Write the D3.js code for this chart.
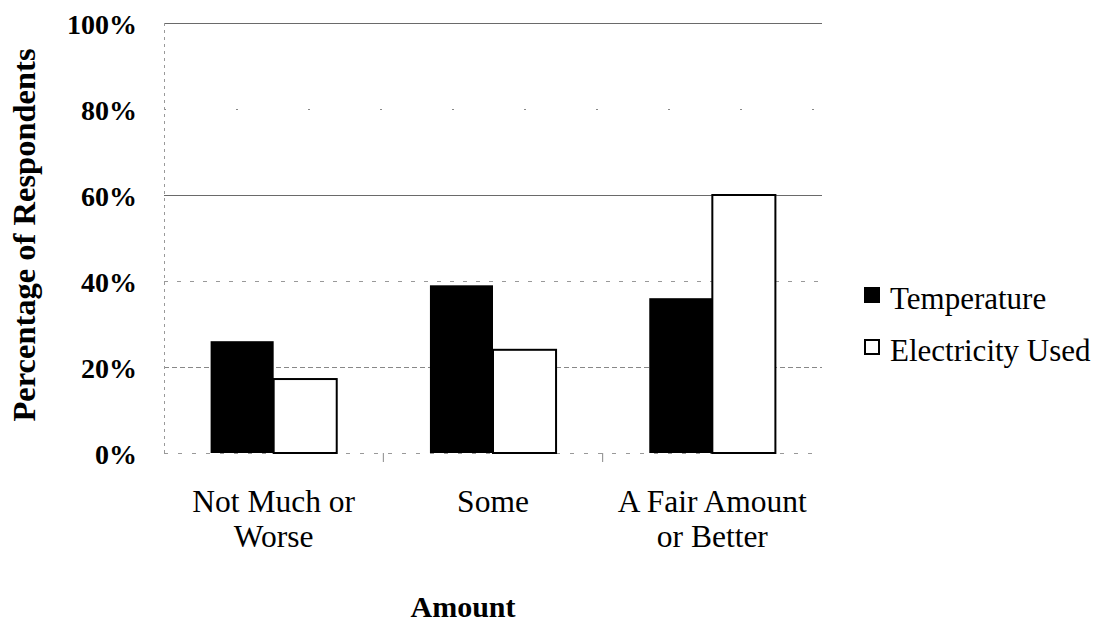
<!DOCTYPE html>
<html>
<head>
<meta charset="utf-8">
<script src="https://cdn.jsdelivr.net/npm/d3@7"></script>
<style>
  body { margin: 0; background: #fff; }
  text { font-family: 'Liberation Serif', 'DejaVu Serif', serif; }
</style>
</head>
<body>
<div id="chart"></div>
<script>
// data
const categories = [["Not Much or", "Worse"], ["Some"], ["A Fair Amount", "or Better"]];
const seriesNames = ["Temperature", "Electricity Used"];
const temperature = [26, 39, 36];
const electricity = [17.2, 24, 60];
const yTicks = [0, 20, 40, 60, 80, 100];

const serif = "'Liberation Serif', 'DejaVu Serif', serif";
const width = 1097, height = 626;
const margin = {top: 23, left: 164, right: 275, bottom: 173};

const svg = d3.select("#chart").append("svg")
  .attr("width", width)
  .attr("height", height)
  .attr("font-family", serif);

const x0 = d3.scaleBand()
  .domain(d3.range(categories.length))
  .range([margin.left, width - margin.right])
  .paddingInner(0.425)
  .paddingOuter(0.2125);

const x1 = d3.scaleBand()
  .domain(seriesNames)
  .range([0, x0.bandwidth()]);

const y = d3.scaleLinear()
  .domain([0, 100])
  .range([height - margin.bottom, margin.top]);

// gridlines: 100% and 60% solid, the rest faint dotted (scanned look)
const gridStyle = {
  100: {stroke: "#6a6a6a", dash: null},
  80: {stroke: "#888", dash: "2,70"},
  60: {stroke: "#6a6a6a", dash: null},
  40: {stroke: "#999", dash: "4,9"},
  20: {stroke: "#888", dash: "5,3"},
  0: {stroke: "#999", dash: "4,10"}
};
svg.append("g")
  .selectAll("line")
  .data(yTicks)
  .join("line")
  .attr("x1", margin.left).attr("x2", width - margin.right)
  .attr("y1", d => y(d) + 0.5).attr("y2", d => y(d) + 0.5)
  .attr("stroke", d => gridStyle[d].stroke)
  .attr("stroke-width", 1)
  .attr("stroke-dasharray", d => gridStyle[d].dash);

// y axis line (faint dotted)
svg.append("line")
  .attr("x1", margin.left + 0.5).attr("x2", margin.left + 0.5)
  .attr("y1", y(100)).attr("y2", y(0))
  .attr("stroke", "#999")
  .attr("stroke-dasharray", "3,4");

// x axis ticks between categories
svg.append("g")
  .selectAll("line")
  .data([1, 2])
  .join("line")
  .attr("x1", i => x0(i) - x0.step() * x0.paddingInner() / 2)
  .attr("x2", i => x0(i) - x0.step() * x0.paddingInner() / 2)
  .attr("y1", y(0)).attr("y2", y(0) + 9)
  .attr("stroke", "#888");

// y tick labels
svg.append("g")
  .selectAll("text")
  .data(yTicks)
  .join("text")
  .attr("x", 137)
  .attr("y", d => y(d) + 11)
  .attr("text-anchor", "end")
  .attr("font-family", serif)
  .attr("font-size", 28)
  .attr("font-weight", "bold")
  .text(d => d + "%");

// bars
const groups = svg.append("g")
  .selectAll("g")
  .data(categories.map((c, i) => i))
  .join("g")
  .attr("transform", i => `translate(${x0(i)},0)`);

groups.append("rect")
  .attr("x", x1("Temperature"))
  .attr("y", i => y(temperature[i]))
  .attr("width", x1.bandwidth())
  .attr("height", i => y(0) - y(temperature[i]))
  .attr("fill", "#000");

groups.append("rect")
  .attr("x", x1("Electricity Used"))
  .attr("y", i => y(electricity[i]))
  .attr("width", x1.bandwidth())
  .attr("height", i => y(0) - y(electricity[i]))
  .attr("fill", "#fff")
  .attr("stroke", "#000")
  .attr("stroke-width", 2);

// category labels
const catLabels = svg.append("g")
  .selectAll("text")
  .data(categories)
  .join("text")
  .attr("x", (d, i) => x0(i) + x0.bandwidth() / 2)
  .attr("y", 512)
  .attr("text-anchor", "middle")
  .attr("font-family", serif)
  .attr("font-size", 31.5);
catLabels.selectAll("tspan")
  .data(d => d)
  .join("tspan")
  .attr("x", function() { return d3.select(this.parentNode).attr("x"); })
  .attr("dy", (d, j) => j === 0 ? 0 : 35)
  .text(d => d);

// axis titles
svg.append("text")
  .attr("x", 463)
  .attr("y", 617)
  .attr("text-anchor", "middle")
  .attr("font-family", serif)
  .attr("font-size", 30)
  .attr("font-weight", "bold")
  .text("Amount");

svg.append("text")
  .attr("transform", "translate(35,235) rotate(-90)")
  .attr("text-anchor", "middle")
  .attr("font-family", serif)
  .attr("font-size", 32.5)
  .attr("font-weight", "bold")
  .text("Percentage of Respondents");

// legend
const legend = svg.append("g")
  .selectAll("g")
  .data(seriesNames)
  .join("g")
  .attr("transform", (d, i) => `translate(864,${287 + i * 52})`);

legend.append("rect")
  .attr("x", 1).attr("y", 1)
  .attr("width", 14).attr("height", 14)
  .attr("fill", (d, i) => i === 0 ? "#000" : "#fff")
  .attr("stroke", "#000")
  .attr("stroke-width", 2);

legend.append("text")
  .attr("x", 26)
  .attr("y", 22)
  .attr("font-family", serif)
  .attr("font-size", 31)
  .text(d => d);
</script>
</body>
</html>
